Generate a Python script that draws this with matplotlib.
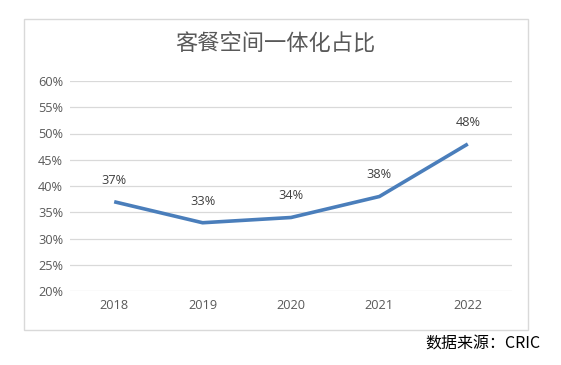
import matplotlib
matplotlib.use("Agg")
import matplotlib.pyplot as plt
from matplotlib.patches import Rectangle

years = ["2018", "2019", "2020", "2021", "2022"]
values = [37, 33, 34, 38, 48]
yticks = [20, 25, 30, 35, 40, 45, 50, 55, 60]
title = "客餐空间一体化占比"
source = "数据来源：CRIC"

W, H = 561, 365
fig = plt.figure(figsize=(W / 100, H / 100), dpi=100)
fig.patch.set_facecolor("white")

# outer chart border
fig.add_artist(Rectangle((24 / W, 1 - 330 / H), (528 - 24) / W, (330 - 19) / H,
                         transform=fig.transFigure, fill=False,
                         edgecolor="#d9d9d9", linewidth=1.0))

num_font = ["Open Sans", "DejaVu Sans"]
ax = fig.add_axes([70 / W, 1 - 291 / H, (512 - 70) / W, (291 - 81) / H])
x = list(range(len(years)))
ax.plot(x, values, color="#4a7ebb", linewidth=2.6, solid_capstyle="butt", zorder=3)
ax.set_xlim(-0.5, len(years) - 0.5)
ax.set_ylim(20, 60)
ax.set_yticks(yticks)
ax.set_yticklabels([f"{v}%" for v in yticks], fontfamily=num_font,
                   fontsize=9.2, color="#595959")
ax.set_xticks(x)
ax.set_xticklabels(years, fontfamily=num_font, fontsize=9.2, color="#595959")
ax.tick_params(length=0)
ax.tick_params(axis="y", pad=5)
ax.tick_params(axis="x", pad=6)
ax.grid(axis="y", color="#d9d9d9", linewidth=0.9)
ax.set_axisbelow(True)
for s in ax.spines.values():
    s.set_visible(False)

for xi, v in zip(x, values):
    ax.annotate(f"{v}%", (xi, v), xytext=(0, 15.5), textcoords="offset points",
                ha="center", va="center", fontsize=9.2, color="#404040",
                fontfamily=num_font)

fig.text(275 / W, 1 - 44 / H, title, ha="center", va="center", fontsize=16,
         color="#595959", fontfamily=["Noto Sans CJK SC", "DejaVu Sans"], fontweight="light")
fig.text(540 / W, 1 - 344 / H, source, ha="right", va="center", fontsize=11.5,
         color="#000000", fontfamily=["Noto Sans CJK SC", "DejaVu Sans"])

fig.savefig("out.png", dpi=100)
